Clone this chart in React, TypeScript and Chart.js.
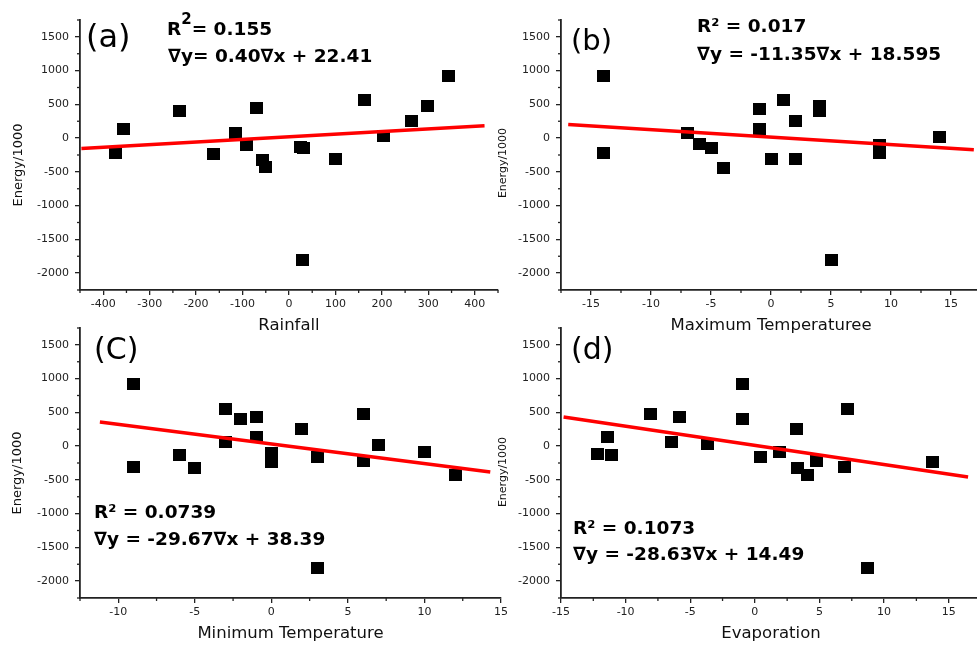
import React, { useEffect, useRef } from "react";
import { Chart, registerables } from "chart.js";

Chart.register(...registerables);

// ---------- data ----------
const energyTicks = [-2000, -1500, -1000, -500, 0, 500, 1000, 1500];
const energyMinorTicks = [-2250, -1750, -1250, -750, -250, 250, 750, 1250, 1750];

const rainfallTicks = [-400, -300, -200, -100, 0, 100, 200, 300, 400];
const rainfallMinorTicks = [-450, -350, -250, -150, -50, 50, 150, 250, 350, 450];
const maxTempTicks = [-15, -10, -5, 0, 5, 10, 15];
const maxTempMinorTicks = [-17.5, -12.5, -7.5, -2.5, 2.5, 7.5, 12.5, 17.5];
const minTempTicks = [-10, -5, 0, 5, 10, 15];
const minTempMinorTicks = [-12.5, -7.5, -2.5, 2.5, 7.5, 12.5];
const evapTicks = [-15, -10, -5, 0, 5, 10, 15];
const evapMinorTicks = [-12.5, -7.5, -2.5, 2.5, 7.5, 12.5, 17.5];

const rainfallX = [-374, -356, -235, -162, -116, -91, -69, -56, -50, 25, 32, 29, 100, 163, 204, 264, 299, 343];
const rainfallEnergy = [-222, 133, 400, -232, 69, -109, 439, -326, -424, -125, -140, -1806, -306, 562, 25, 261, 483, 922];
const rainfallFitX = [-447, 421];
const rainfallFitY = [-155, 183];

const maxTempX = [-14, -14, -7, -6, -5, -4, -1, -1, 0, 1, 2, 2, 4, 4, 5, 9, 9, 14];
const maxTempEnergy = [927, -222, 69, -94, -143, -439, 429, 133, -316, 562, 261, -306, 483, 400, -1806, -104, -222, 20];
const maxTempFitX = [-16.9, 16.9];
const maxTempFitY = [202, -173];

const minTempX = [-9, -9, -6, -5, -3, -3, -2, -1, -1, 0, 0, 2, 3, 3, 6, 6, 7, 10, 12];
const minTempEnergy = [925, -305, -133, -325, 556, 64, 403, 438, 138, -108, -231, 261, -157, -1800, 477, -221, 15, -93, -423];
const minTempFitX = [-11.2, 14.3];
const minTempFitY = [359, -384];

const evapX = [-12.2, -11.4, -11.07, -8.08, -6.47, -5.85, -3.69, -0.96, -0.99, 0.42, 1.89, 3.23, 3.3, 4.07, 4.74, 6.93, 7.16, 8.68, 13.74];
const evapEnergy = [-123, 133, -133, 477, 64, 433, 25, 925, 398, -157, -89, 261, -325, -423, -221, -305, 556, -1800, -231];
const evapFitX = [-14.8, 16.5];
const evapFitY = [430, -457];

// ---------- styling / layout ----------
const FONT = "'DejaVu Sans', sans-serif";
const AXIS_COLOR = "#222";

type Part = { text: string; size: number; bold: boolean; dy?: number };
type TextItem = { x: number; y: number; parts: Part[] };

type PanelDef = {
  left: number;
  top: number;
  w: number;
  h: number;
  yAxisW: number;
  padTop: number;
  padRight: number;
  xAxisH: number;
  xMin: number;
  xMax: number;
  xTicks: number[];
  xMinor: number[];
  xTitle: string;
  xTitlePad: number;
  yTitleSize: number;
  yTitleX: number;
  yTitleY: number;
  xs: number[];
  ys: number[];
  fitX: number[];
  fitY: number[];
  texts: TextItem[];
};

const B = 18.5;

const panels: PanelDef[] = [
  {
    left: 0, top: 0, w: 505, h: 340, yAxisW: 80, padTop: 20, padRight: 4, xAxisH: 50,
    xMin: -450, xMax: 450, xTicks: rainfallTicks, xMinor: rainfallMinorTicks,
    xTitle: "Rainfall", xTitlePad: 4, yTitleSize: 13, yTitleX: 19, yTitleY: 165,
    xs: rainfallX, ys: rainfallEnergy, fitX: rainfallFitX, fitY: rainfallFitY,
    texts: [
      { x: 86, y: 47, parts: [{ text: "(a)", size: 32, bold: false }] },
      {
        x: 167, y: 35,
        parts: [
          { text: "R", size: B, bold: true },
          { text: "2", size: 15, bold: true, dy: -11 },
          { text: "= 0.155", size: B, bold: true },
        ],
      },
      { x: 168, y: 62, parts: [{ text: "∇y= 0.40∇x + 22.41", size: B, bold: true }] },
    ],
  },
  {
    left: 488, top: 0, w: 500, h: 340, yAxisW: 73, padTop: 20, padRight: 4, xAxisH: 50,
    xMin: -17.5, xMax: 17.5, xTicks: maxTempTicks, xMinor: maxTempMinorTicks,
    xTitle: "Maximum Temperaturee", xTitlePad: 4, yTitleSize: 11, yTitleX: 15, yTitleY: 163,
    xs: maxTempX, ys: maxTempEnergy, fitX: maxTempFitX, fitY: maxTempFitY,
    texts: [
      { x: 83, y: 50, parts: [{ text: "(b)", size: 29, bold: false }] },
      { x: 209, y: 32, parts: [{ text: "R² = 0.017", size: B, bold: true }] },
      { x: 209, y: 60, parts: [{ text: "∇y = -11.35∇x + 18.595", size: B, bold: true }] },
    ],
  },
  {
    left: 0, top: 308, w: 511, h: 338, yAxisW: 80, padTop: 20, padRight: 4, xAxisH: 48,
    xMin: -12.5, xMax: 15, xTicks: minTempTicks, xMinor: minTempMinorTicks,
    xTitle: "Minimum Temperature", xTitlePad: 2, yTitleSize: 13, yTitleX: 18, yTitleY: 165,
    xs: minTempX, ys: minTempEnergy, fitX: minTempFitX, fitY: minTempFitY,
    texts: [
      { x: 94, y: 51, parts: [{ text: "(C)", size: 30, bold: false }] },
      { x: 94, y: 210, parts: [{ text: "R² = 0.0739", size: B, bold: true }] },
      { x: 94, y: 237, parts: [{ text: "∇y = -29.67∇x + 38.39", size: B, bold: true }] },
    ],
  },
  {
    left: 488, top: 308, w: 500, h: 338, yAxisW: 73, padTop: 20, padRight: 5, xAxisH: 48,
    xMin: -15, xMax: 17.5, xTicks: evapTicks, xMinor: evapMinorTicks,
    xTitle: "Evaporation", xTitlePad: 2, yTitleSize: 11, yTitleX: 15, yTitleY: 164,
    xs: evapX, ys: evapEnergy, fitX: evapFitX, fitY: evapFitY,
    texts: [
      { x: 83, y: 51, parts: [{ text: "(d)", size: 30, bold: false }] },
      { x: 85, y: 226, parts: [{ text: "R² = 0.1073", size: B, bold: true }] },
      { x: 85, y: 252, parts: [{ text: "∇y = -28.63∇x + 14.49", size: B, bold: true }] },
    ],
  },
];

function makeSquare(w: number, h: number): HTMLCanvasElement {
  const c = document.createElement("canvas");
  c.width = w;
  c.height = h;
  const g = c.getContext("2d")!;
  g.fillStyle = "#000";
  g.fillRect(0, 0, w, h);
  return c;
}

function makeDecor(p: PanelDef) {
  return {
    id: "decor",
    afterDraw(chart: any) {
      const { ctx, chartArea } = chart;
      const xs = chart.scales.x;
      const ys = chart.scales.y;
      ctx.save();
      ctx.strokeStyle = AXIS_COLOR;
      ctx.lineWidth = 1.3;
      for (const v of p.xMinor) {
        const px = xs.getPixelForValue(v);
        if (px < chartArea.left - 0.5 || px > chartArea.right + 0.5) continue;
        ctx.beginPath();
        ctx.moveTo(px, chartArea.bottom);
        ctx.lineTo(px, chartArea.bottom + 3);
        ctx.stroke();
      }
      for (const v of energyMinorTicks) {
        const py = ys.getPixelForValue(v);
        if (py < chartArea.top - 0.5 || py > chartArea.bottom + 0.5) continue;
        ctx.beginPath();
        ctx.moveTo(chartArea.left, py);
        ctx.lineTo(chartArea.left - 3, py);
        ctx.stroke();
      }
      // y-axis title
      ctx.save();
      ctx.translate(p.yTitleX, p.yTitleY);
      ctx.rotate(-Math.PI / 2);
      ctx.font = `${p.yTitleSize}px ${FONT}`;
      ctx.fillStyle = "#111";
      ctx.textAlign = "center";
      ctx.textBaseline = "middle";
      ctx.fillText("Energy/1000", 0, 0);
      ctx.restore();
      // annotations
      ctx.fillStyle = "#000";
      ctx.textAlign = "left";
      ctx.textBaseline = "alphabetic";
      for (const t of p.texts) {
        let x = t.x;
        for (const part of t.parts) {
          ctx.font = `${part.bold ? "bold " : ""}${part.size}px ${FONT}`;
          ctx.fillText(part.text, x, t.y + (part.dy || 0));
          x += ctx.measureText(part.text).width;
        }
      }
      ctx.restore();
    },
  };
}

function Panel({ p }: { p: PanelDef }) {
  const ref = useRef<HTMLCanvasElement>(null);
  useEffect(() => {
    const canvas = ref.current;
    if (!canvas) return;
    const square = makeSquare(13, 12);
    const points = p.xs.map((x, i) => ({ x, y: p.ys[i] }));
    const fit = p.fitX.map((x, i) => ({ x, y: p.fitY[i] }));
    const tickFont = { family: FONT, size: 11 };
    const chart = new Chart(canvas, {
      type: "scatter",
      data: {
        datasets: [
          {
            data: fit,
            showLine: true,
            borderColor: "#ff0000",
            backgroundColor: "#ff0000",
            borderWidth: 3.5,
            pointRadius: 0,
            order: 0,
          } as any,
          {
            data: points,
            pointStyle: square as any,
            pointRadius: 6,
            backgroundColor: "#000",
            borderColor: "#000",
            order: 1,
          } as any,
        ],
      },
      options: {
        animation: false,
        responsive: false,
        devicePixelRatio: 1,
        events: [],
        layout: { padding: { top: p.padTop, right: p.padRight, left: 0, bottom: 0 } },
        plugins: { legend: { display: false }, tooltip: { enabled: false } },
        scales: {
          x: {
            type: "linear",
            position: "bottom",
            min: p.xMin,
            max: p.xMax,
            afterBuildTicks: (s: any) => {
              s.ticks = p.xTicks.map((v) => ({ value: v }));
            },
            afterFit: (s: any) => {
              s.height = p.xAxisH;
            },
            ticks: {
              callback: (v: any) => String(v),
              autoSkip: false,
              maxRotation: 0,
              font: tickFont,
              color: "#222",
              padding: 3,
            },
            grid: { drawOnChartArea: false, drawTicks: true, tickLength: 5, color: AXIS_COLOR, lineWidth: 1.3 },
            border: { display: true, color: AXIS_COLOR, width: 1.8 },
            title: {
              display: true,
              text: p.xTitle,
              font: { family: FONT, size: 16.5 },
              color: "#111",
              padding: { top: 0, bottom: p.xTitlePad },
            },
          },
          y: {
            type: "linear",
            position: "left",
            min: -2250,
            max: 1750,
            afterBuildTicks: (s: any) => {
              s.ticks = energyTicks.map((v) => ({ value: v }));
            },
            afterFit: (s: any) => {
              s.width = p.yAxisW;
            },
            ticks: {
              callback: (v: any) => String(v),
              autoSkip: false,
              font: tickFont,
              color: "#222",
              padding: 6,
            },
            grid: { drawOnChartArea: false, drawTicks: true, tickLength: 5, color: AXIS_COLOR, lineWidth: 1.3 },
            border: { display: true, color: AXIS_COLOR, width: 1.8 },
            title: { display: false },
          },
        },
      },
      plugins: [makeDecor(p)],
    } as any);
    return () => chart.destroy();
  }, [p]);
  return (
    <canvas
      ref={ref}
      width={p.w}
      height={p.h}
      style={{ position: "absolute", left: p.left, top: p.top, width: p.w, height: p.h }}
    />
  );
}

export default function App() {
  return (
    <div
      style={{
        position: "absolute",
        left: 0,
        top: 0,
        width: 977,
        height: 646,
        overflow: "hidden",
        background: "#fff",
      }}
    >
      {panels.map((p, i) => (
        <Panel key={i} p={p} />
      ))}
    </div>
  );
}
